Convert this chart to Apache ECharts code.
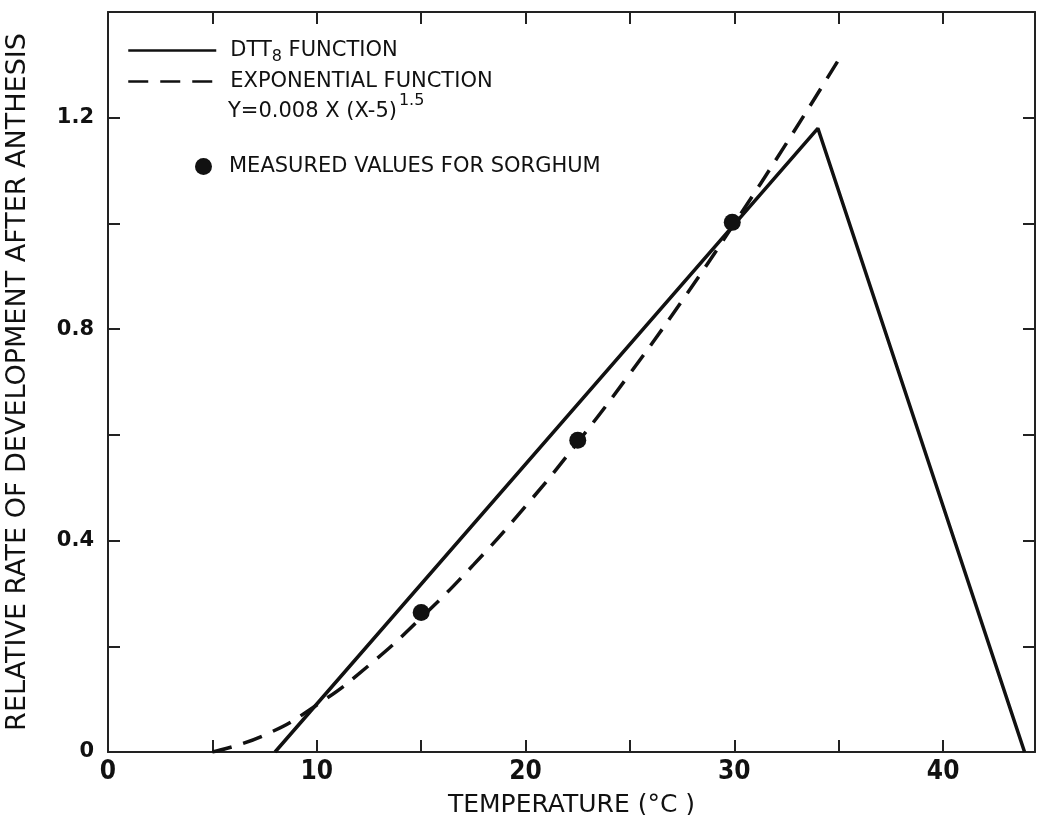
<!DOCTYPE html>
<html>
<head>
<meta charset="utf-8">
<title>Relative rate of development after anthesis</title>
<script src="https://cdn.jsdelivr.net/npm/echarts@6/dist/echarts.min.js"></script>
<style>
    html, body { margin: 0; padding: 0; background: #fff; }
    #chart { width: 1037px; height: 815px; }
</style>
</head>
<body>
<div id="chart"></div>
<script>
// DTT8 function (solid)
const dttX = [8, 34, 43.9];
const dttY = [0, 1.18, 0];

// exponential function (dashed)
const expX = [5, 7.5, 10, 12.5, 15, 17.5, 20, 22.5, 25, 27.5, 30, 32.5, 35];
const expY = [0, 0.032, 0.089, 0.164, 0.254, 0.354, 0.465, 0.586, 0.716, 0.854, 1.0, 1.152, 1.31];

// measured values for sorghum
const measX = [15, 22.5, 29.9];
const measY = [0.264, 0.59, 1.002];

const xLabels = [0, 10, 20, 30, 40];
const yLabels = [0, 0.4, 0.8, 1.2];

const zip = (xs, ys) => xs.map((x, i) => [x, ys[i]]);

const black = '#111';
const axisLine = { show: true, onZero: false, lineStyle: { color: '#222', width: 2 } };
const tick = { show: true, inside: true, length: 12, lineStyle: { color: '#222', width: 2 } };
const legendText = { fontFamily: 'DejaVu Sans', fontSize: 21, color: black };

const chart = echarts.init(document.getElementById('chart'));

const option = {
    backgroundColor: '#fff',
    animation: false,
    grid: { left: 108, right: 2, top: 12, bottom: 63, outerBoundsMode: 'none', containLabel: false },
    xAxis: [{
        type: 'value',
        min: 0,
        max: 44.4,
        interval: 5,
        name: 'TEMPERATURE (°C )',
        nameLocation: 'middle',
        nameGap: 41,
        nameTextStyle: { fontFamily: 'DejaVu Sans', fontSize: 25, color: black },
        axisLine: axisLine,
        axisTick: tick,
        axisLabel: {
            showMaxLabel: false,
            margin: 7,
            fontFamily: 'DejaVu Sans Condensed',
            fontWeight: 'bold',
            fontSize: 26,
            color: black,
            formatter: v => xLabels.includes(v) ? String(v) : ''
        },
        splitLine: { show: false }
    }, {
        type: 'value',
        position: 'top',
        min: 0,
        max: 44.4,
        interval: 5,
        axisLine: axisLine,
        axisTick: tick,
        axisLabel: { show: false },
        splitLine: { show: false }
    }],
    yAxis: [{
        type: 'value',
        min: 0,
        max: 1.4,
        interval: 0.2,
        name: 'RELATIVE RATE OF DEVELOPMENT AFTER ANTHESIS',
        nameLocation: 'middle',
        nameGap: 77,
        nameTextStyle: { fontFamily: 'DejaVu Sans', fontSize: 27, color: black },
        axisLine: axisLine,
        axisTick: tick,
        axisLabel: {
            showMaxLabel: false,
            margin: 14,
            fontFamily: 'DejaVu Sans',
            fontWeight: 'bold',
            fontSize: 21,
            color: black,
            formatter: v => {
                const hit = yLabels.find(l => Math.abs(l - v) < 1e-6);
                if (hit === undefined) return '';
                return hit === 0 ? '0' : hit.toFixed(1);
            }
        },
        splitLine: { show: false }
    }, {
        type: 'value',
        position: 'right',
        min: 0,
        max: 1.4,
        interval: 0.2,
        axisLine: axisLine,
        axisTick: tick,
        axisLabel: { show: false },
        splitLine: { show: false }
    }],
    legend: [{
        data: ['DTT8 FUNCTION'],
        left: 122,
        top: 35,
        itemWidth: 88,
        itemHeight: 14,
        itemStyle: { opacity: 0 },
        lineStyle: { width: 2.5 },
        selectedMode: false,
        formatter: () => '{a|DTT}{sub|8}{a| FUNCTION}',
        textStyle: {
            padding: [0, 0, 0, 9],
            rich: {
                a: legendText,
                sub: { fontFamily: 'DejaVu Sans', fontSize: 16, color: black, padding: [12, 0, 0, 0] }
            }
        }
    }, {
        data: ['EXPONENTIAL FUNCTION'],
        left: 122,
        top: 66,
        itemWidth: 88,
        itemHeight: 14,
        itemStyle: { opacity: 0 },
        lineStyle: { width: 2.5 },
        selectedMode: false,
        textStyle: Object.assign({ padding: [0, 0, 0, 9] }, legendText)
    }, {
        data: ['MEASURED VALUES FOR SORGHUM'],
        left: 190,
        top: 151,
        itemWidth: 17,
        itemHeight: 17,
        selectedMode: false,
        textStyle: Object.assign({ padding: [0, 0, 0, 12] }, legendText)
    }],
    graphic: [{
        type: 'text',
        left: 228,
        top: 93,
        style: {
            text: '{a|Y=0.008 X (X-5)}{sup|1.5}',
            rich: {
                a: { fontFamily: 'DejaVu Sans', fontSize: 21, fill: black, padding: [10, 0, 0, 0] },
                sup: { fontFamily: 'DejaVu Sans', fontSize: 16, fill: black, padding: [0, 0, 12, 2] }
            }
        }
    }],
    series: [{
        name: 'DTT8 FUNCTION',
        type: 'line',
        data: zip(dttX, dttY),
        symbol: 'none',
        itemStyle: { color: black },
        lineStyle: { color: black, width: 3.5 },
        z: 3
    }, {
        name: 'EXPONENTIAL FUNCTION',
        type: 'line',
        data: zip(expX, expY),
        smooth: true,
        symbol: 'none',
        itemStyle: { color: black },
        lineStyle: { color: black, width: 3.5, type: [20, 12] },
        z: 2
    }, {
        name: 'MEASURED VALUES FOR SORGHUM',
        type: 'scatter',
        data: zip(measX, measY),
        symbol: 'circle',
        symbolSize: 17,
        itemStyle: { color: black, opacity: 1 },
        z: 4
    }]
};

chart.setOption(option);
</script>
</body>
</html>
